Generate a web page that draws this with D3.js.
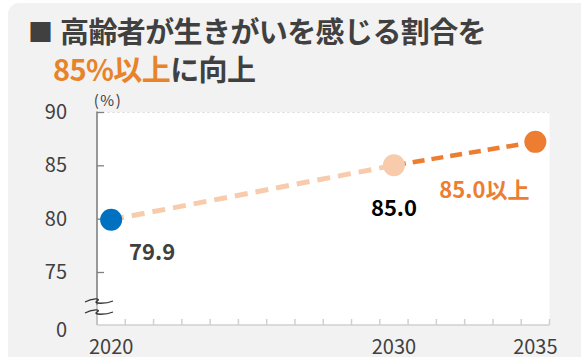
<!DOCTYPE html>
<html>
<head>
<meta charset="utf-8">
<script src="https://cdn.jsdelivr.net/npm/d3@7"></script>
<style>
  html, body { margin: 0; padding: 0; background: #ffffff; }
  svg { display: block; font-family: "Noto Sans CJK JP", "Noto Sans", sans-serif; }
</style>
</head>
<body>
<script>
// Years on the horizontal axis (one band per year)
const years = d3.range(2020, 2036);
// Plotted points: actual (2020), interim (2030) and target (2035)
const pointYears = [2020, 2030, 2035];
const pointValues = [79.9, 85.0, 87.2];
const pointLabels = ["79.9", "85.0", "85.0以上"];
// Axis ticks
const yTicks = [75, 80, 85, 90];
const xTickLabels = [2020, 2030, 2035];

const W = 581, H = 357;
const svg = d3.select("body").append("svg").attr("width", W).attr("height", H);

// panel
svg.append("rect").attr("x", 8).attr("y", 3).attr("width", W + 20).attr("height", H + 20)
  .attr("rx", 11).attr("fill", "#f2f2f2");

// title
const title = svg.append("g").attr("fill", "#404040").attr("font-weight", 700);
title.append("text").attr("x", 28).attr("y", 42).attr("font-size", 25).text("■");
title.append("text").attr("x", 60).attr("y", 43).attr("font-size", 29)
  .attr("letter-spacing", -0.6).text("高齢者が生きがいを感じる割合を");
const t2 = title.append("text").attr("x", 53).attr("y", 81).attr("font-size", 29).attr("letter-spacing", -0.6);
t2.append("tspan").attr("fill", "#e8832a").text("85%以上");
t2.append("tspan").text("に向上");

// scales
const pL = 97, pR = 549.5, pT = 112, pB = 325;
const x = d3.scaleBand().domain(years).range([pL, pR]);
const y = d3.scaleLinear().domain([75, 90]).range([272, pT]);
const cx = d => x(d) + x.bandwidth() / 2;

// plot background
svg.append("rect").attr("x", pL).attr("y", pT).attr("width", pR - pL).attr("height", pB - pT)
  .attr("fill", "#ffffff");
svg.append("line").attr("x1", pL).attr("x2", pR).attr("y1", pT + 0.5).attr("y2", pT + 0.5)
  .attr("stroke", "#e4e4e4").attr("stroke-dasharray", "3,2");

// x axis: baseline and band-edge ticks
const xa = svg.append("g").attr("stroke", "#d0d0d0").attr("stroke-width", 1.5);
xa.append("line").attr("x1", pL).attr("x2", pR).attr("y1", pB).attr("y2", pB);
xa.selectAll("line.t").data(years).join("line").attr("class", "t")
  .attr("x1", d => x(d) + x.bandwidth()).attr("x2", d => x(d) + x.bandwidth())
  .attr("y1", pB).attr("y2", pB - 6);

const xAxis = svg.append("g").attr("transform", `translate(0,${pB})`)
  .call(d3.axisBottom(x).tickValues(xTickLabels).tickSize(0).tickPadding(15));
xAxis.select(".domain").remove();
xAxis.selectAll("text").attr("font-size", 20).attr("fill", "#404040")
  .attr("font-family", "'Noto Sans CJK JP', sans-serif");

// y axis with inward ticks
const yAxis = svg.append("g").attr("transform", `translate(${pL},0)`)
  .call(d3.axisLeft(y).tickValues(yTicks).tickSizeInner(-7).tickSizeOuter(0).tickPadding(30));
yAxis.select(".domain").remove();
yAxis.selectAll(".tick line").attr("stroke", "#808080").attr("stroke-width", 1.3);
yAxis.selectAll("text").attr("font-size", 20).attr("fill", "#404040")
  .attr("font-family", "'Noto Sans CJK JP', sans-serif");
svg.append("line").attr("x1", pL).attr("x2", pL).attr("y1", pT - 0.5).attr("y2", 305)
  .attr("stroke", "#808080").attr("stroke-width", 1.6);
svg.append("line").attr("x1", pL).attr("x2", pL).attr("y1", 305).attr("y2", pB)
  .attr("stroke", "#b8b8b8").attr("stroke-width", 1.6);

// axis break and the zero label below it
const brk = svg.append("g").attr("fill", "none").attr("stroke", "#333").attr("stroke-width", 1.3);
[301, 312].forEach(yy => {
  brk.append("path").attr("d", `M85,${yy + 1} C92,${yy - 3} 102,${yy - 3} 97,${yy} S106,${yy + 3} 113,${yy}`);
});
svg.append("text").attr("x", pL - 30).attr("y", 331).attr("dy", "0.32em").attr("text-anchor", "end")
  .attr("font-size", 20).attr("fill", "#404040").text("0");

svg.append("text").attr("x", 108).attr("y", 106).attr("text-anchor", "middle")
  .attr("font-size", 15).attr("letter-spacing", 1.5).attr("fill", "#404040").text("(%)");

// dashed trend segments
const pts = pointYears.map((yr, i) => ({ yr, v: pointValues[i] }));
const line = d3.line().x(d => cx(d.yr)).y(d => y(d.v));
svg.append("path").attr("d", line(pts.slice(0, 2))).attr("fill", "none")
  .attr("stroke", "#f8cbad").attr("stroke-width", 5).attr("stroke-dasharray", "13,8");
svg.append("path").attr("d", line(pts.slice(1, 3))).attr("fill", "none")
  .attr("stroke", "#ed7d31").attr("stroke-width", 4.5).attr("stroke-dasharray", "12,7");

// points
const dotColors = ["#0070c0", "#f8cbad", "#ed7d31"];
svg.selectAll("circle.pt").data(pts).join("circle").attr("class", "pt")
  .attr("cx", d => cx(d.yr)).attr("cy", d => y(d.v)).attr("r", 11)
  .attr("fill", (d, i) => dotColors[i]);

// value labels
const labelPos = [
  { dx: 41, dy: 33, color: "#404040" },
  { dx: 0, dy: 43, color: "#000000" },
  { dx: -51, dy: 48, color: "#ed7d31" }
];
svg.selectAll("text.vl").data(pts).join("text").attr("class", "vl")
  .attr("x", (d, i) => cx(d.yr) + labelPos[i].dx)
  .attr("y", (d, i) => y(d.v) + labelPos[i].dy)
  .attr("dy", "0.35em").attr("text-anchor", "middle")
  .attr("font-size", 22).attr("font-weight", 700)
  .attr("fill", (d, i) => labelPos[i].color)
  .text((d, i) => pointLabels[i]);
</script>
</body>
</html>
